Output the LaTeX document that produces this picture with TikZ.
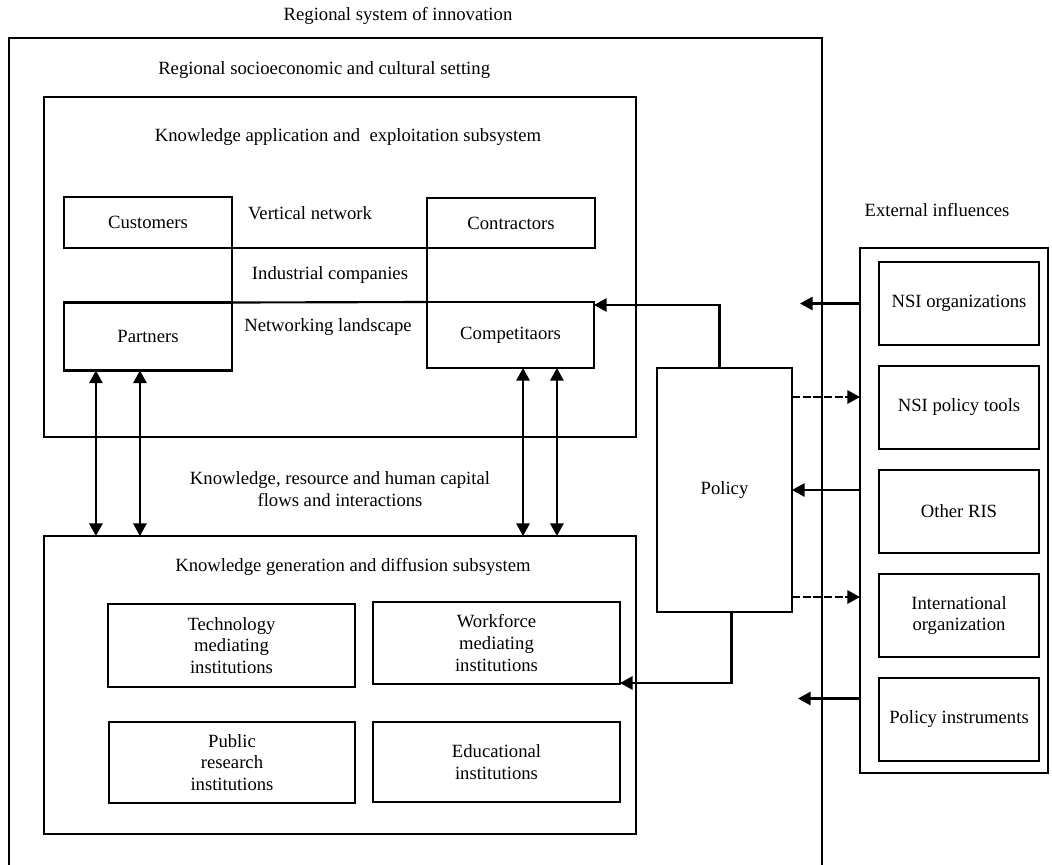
\documentclass[tikz,border=0pt]{standalone}
\usepackage{fontspec}
\setmainfont{Liberation Serif}
\usetikzlibrary{arrows.meta, positioning, calc}
\tikzstyle{panel} = [rectangle, draw=black, line width=1.6pt, inner sep=0pt, outer sep=0pt]
\tikzstyle{unit} = [panel, align=center, font=\fontsize{14pt}{16.3pt}\selectfont]
\tikzstyle{txt} = [align=center, inner sep=0pt, font=\fontsize{14pt}{16.5pt}\selectfont]
\tikzstyle{arrow} = [line width=1.6pt, -{Triangle[length=9.5pt,width=10pt]}]
\tikzstyle{darrow} = [line width=1.6pt, {Triangle[length=9.5pt,width=10pt]}-{Triangle[length=9.5pt,width=10pt]}]
\tikzstyle{dasharrow} = [arrow, dash pattern=on 6pt off 2pt]

\begin{document}
\begin{tikzpicture}[x=0.75pt, y=-0.75pt, node distance=78pt]
    \useasboundingbox (0,0) rectangle (1052,864);

    % regional system of innovation
    \node (title) [txt] at (398,16) {Regional system of innovation};
    \node (ris) [panel, minimum width=609.75pt, minimum height=637.5pt] at (415.5,463) {};
    \node (setting) [txt, anchor=west] at (158,70) {Regional socioeconomic and cultural setting};

    % knowledge application and exploitation
    \node (app) [panel, minimum width=444pt, minimum height=255pt] at (340,267) {};
    \node (apptitle) [txt] at (348,137) {Knowledge application and \ exploitation subsystem};
    \node (cust) [unit, minimum width=126pt, minimum height=38.25pt] at (148,222.5) {Customers};
    \node (contr) [unit, minimum width=126pt, minimum height=37.5pt] at (511,223) {Contractors};
    \node (part) [unit, minimum width=126pt, minimum height=51pt] at (148,336.5) {Partners};
    \node (comp) [unit, minimum width=125.25pt, minimum height=49.5pt] at (510.5,335) {Competitaors};
    \node (vnet) [txt] at (310,213) {Vertical network};
    \node (indus) [txt] at (330,275) {Industrial companies};
    \node (land) [txt] at (328,327) {Networking landscape};

    \draw [line width=1.6pt] (cust.south east) -- (contr.south west);
    \draw [line width=1.6pt] (part.north east) -- (comp.north west);
    \draw [line width=1.6pt] (cust.south east) -- (part.north east);
    \draw [line width=1.6pt] (contr.south west) -- (comp.north west);

    % knowledge generation and diffusion
    \node (gen) [panel, minimum width=444pt, minimum height=223.5pt] at (340,685) {};
    \node (gentitle) [txt] at (353,567) {Knowledge generation and diffusion subsystem};
    \node (tech) [unit, minimum width=185.25pt, minimum height=62pt] at (231.5,645.5) {Technology\\mediating\\institutions};
    \node (work) [unit, minimum width=185.25pt, minimum height=61.5pt] at (496.5,643) {Workforce\\mediating\\institutions};
    \node (pub) [unit, minimum width=184.5pt, minimum height=60.75pt] at (232,762.5) {Public\\research\\institutions};
    \node (edu) [unit, minimum width=185.25pt, minimum height=60pt] at (496.5,762) {Educational\\institutions};

    % flows between subsystems
    \node (flows) [txt] at (340,489) {Knowledge, resource and human capital\\flows and interactions};
    \coordinate (f1) at ($(part.south west)!0.19!(part.south east)$);
    \coordinate (f2) at ($(part.south west)!0.452!(part.south east)$);
    \coordinate (f3) at ($(comp.south west)!0.575!(comp.south east)$);
    \coordinate (f4) at ($(comp.south west)!0.778!(comp.south east)$);
    \draw [darrow] (f1) -- (f1 |- gen.north);
    \draw [darrow] (f2) -- (f2 |- gen.north);
    \draw [darrow] (f3) -- (f3 |- gen.north);
    \draw [darrow] (f4) -- (f4 |- gen.north);

    % policy
    \node (policy) [unit, minimum width=101.25pt, minimum height=183pt] at (724.5,490) {Policy};
    \draw [arrow] ($(policy.north)+(-5,0)$) |- ($(comp.north east)+(0,3)$);
    \draw [arrow] ($(policy.south)+(7,0)$) |- ($(work.south east)+(0,-1)$);

    % external influences
    \node (exttitle) [txt] at (937,210) {External influences};
    \node (ext) [panel, minimum width=141pt, minimum height=393.75pt] at (954,510.5) {};
    \node (nsiorg) [unit, minimum width=120pt, minimum height=62.25pt] at (959,303.5) {NSI organizations};
    \node (nsitool) [unit, minimum width=120pt, minimum height=62.25pt, below of=nsiorg] {NSI policy tools};
    \node (oris) [unit, minimum width=120pt, minimum height=62.25pt, below of=nsitool] {Other RIS};
    \node (intorg) [unit, minimum width=120pt, minimum height=62.25pt, below of=oris] {International\\organization};
    \node (polinst) [unit, minimum width=120pt, minimum height=62.25pt, below of=intorg] {Policy instruments};

    \coordinate (d1) at ($(policy.north east)+(0,29)$);
    \coordinate (d2) at ($(policy.south east)+(0,-15)$);
    \draw [arrow] (ext.west |- nsiorg.west) -- ++(-60,0);
    \draw [dasharrow] (d1) -- (d1 -| ext.west);
    \draw [arrow] (ext.west |- policy.east) -- (policy.east);
    \draw [dasharrow] (d2) -- (d2 -| ext.west);
    \draw [arrow] ($(ext.west |- polinst.west)+(0,-21)$) -- ++(-62,0);
\end{tikzpicture}
\end{document}
